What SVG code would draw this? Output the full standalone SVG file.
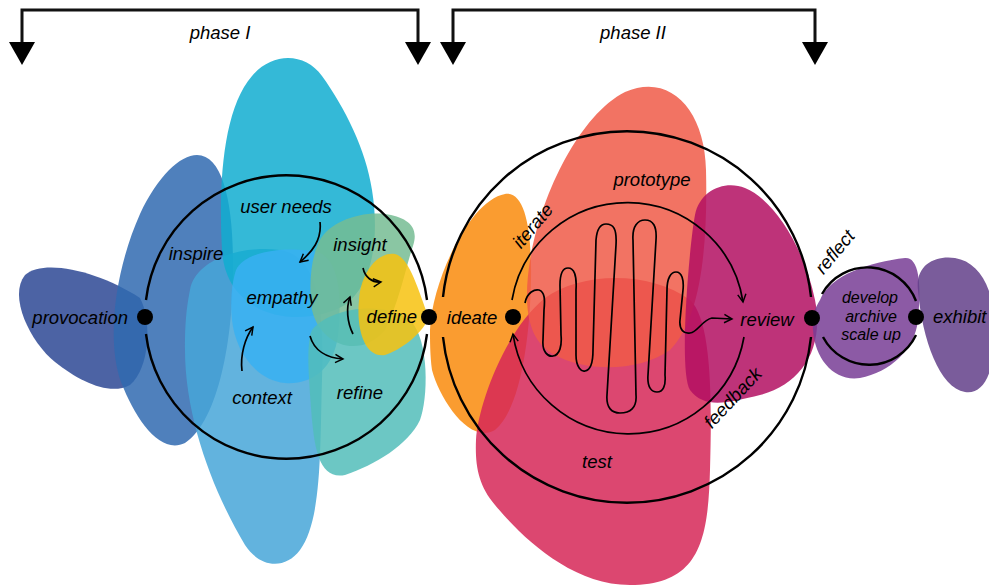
<svg xmlns="http://www.w3.org/2000/svg" width="989" height="586" viewBox="0 0 989 586">
<defs>
<marker id="chev" viewBox="0 0 12 12" refX="10" refY="6" markerWidth="11" markerHeight="11" markerUnits="userSpaceOnUse" orient="auto">
<path d="M1.5,1.5 L10,6 L1.5,10.5" fill="none" stroke="#000" stroke-width="1.6" stroke-linejoin="miter"/>
</marker>
<style>
.blob{fill-opacity:0.85;stroke:none}
.ln{fill:none;stroke:#000;stroke-width:2.4}
.thin{fill:none;stroke:#000;stroke-width:1.7}
.br{fill:none;stroke:#111;stroke-width:3}
.tri{fill:#000}
.dot{fill:#000}
text{font-family:"Liberation Sans",Arial,sans-serif;font-style:italic;font-size:18.5px;fill:#000;text-anchor:middle}
.sm{font-size:16px}
</style>
</defs>
<rect width="989" height="586" fill="#fff"/>

<g id="blobs">
<path id="blob-provocation" class="blob" fill="#2d4894" d="M25 275 C45 258 100 272 140 298 C152 320 150 368 130 385 C110 396 80 382 55 362 C30 342 8 296 25 275 Z"/>
<path id="blob-inspire" class="blob" fill="#306ab0" d="M197 155 C222 155 233 200 233 262 C234 332 220 420 185 443 C160 455 136 420 121 382 C106 340 115 270 140 214 C158 176 180 155 197 155 Z"/>
<path id="blob-context" class="blob" fill="#47a6d8" d="M190 290 C195 260 240 245 280 250 C315 255 325 300 322 380 C320 450 322 520 300 550 C285 570 260 568 245 545 C215 495 185 420 185 350 C185 320 187 305 190 290 Z"/>
<path id="blob-userneeds" class="blob" fill="#10add0" d="M222 250 C218 180 224 108 252 76 C272 52 305 52 322 76 C345 108 366 150 372 190 C380 240 372 285 345 305 C300 330 226 318 222 250 Z"/>
<path id="blob-empathy" class="blob" fill="#38b0f2" d="M236 270 C245 250 290 246 318 252 C340 260 342 300 338 335 C334 370 310 385 285 383 C255 380 235 350 232 320 C230 300 232 282 236 270 Z"/>
<path id="blob-insight" class="blob" fill="#76bc93" d="M320 240 C330 222 360 211 385 214 C405 217 420 225 413 246 C406 266 400 300 385 330 C360 360 320 345 312 310 C308 280 312 255 320 240 Z"/>
<path id="blob-refine" class="blob" fill="#52bdba" d="M312 330 C330 308 382 300 410 320 C430 340 428 400 420 420 C408 445 375 465 345 475 C320 480 315 450 312 420 C310 390 305 345 312 330 Z"/>
<path id="blob-define" class="blob" fill="#f7c20f" d="M359 300 C361 270 380 251 395 254 C410 258 418 290 429 318 C420 336 400 350 385 355 C365 358 356 330 359 300 Z"/>
<path id="blob-ideate" class="blob" fill="#f98b0c" d="M430 330 C432 280 470 200 505 194 C525 191 532 230 531 280 C530 340 520 410 495 430 C470 445 440 400 432 370 C430 355 430 340 430 330 Z"/>
<path id="blob-test" class="blob" fill="#d62757" d="M476 440 C478 405 505 330 545 298 C580 272 650 270 690 300 C712 320 712 400 710 470 C708 540 700 585 630 585 C570 585 520 535 495 505 C478 485 475 465 476 440 Z"/>
<path id="blob-prototype" class="blob" fill="#f05a48" d="M527 300 C525 230 570 120 625 92 C670 72 705 110 706 170 C708 250 700 320 670 350 C640 372 585 372 555 355 C535 345 528 325 527 300 Z"/>
<path id="blob-review" class="blob" fill="#b30f62" d="M695 215 C700 190 725 180 745 188 C775 200 805 250 815 300 C825 350 800 385 760 395 C730 402 705 410 690 390 C678 370 690 240 695 215 Z"/>
<path id="blob-develop" class="blob" fill="#783d95" d="M820 300 C830 275 870 262 905 258 C918 257 922 280 918 320 C915 350 890 372 860 378 C835 382 815 360 813 330 C812 315 815 308 820 300 Z"/>
<path id="blob-exhibit" class="blob" fill="#63408a" d="M918 290 C915 265 935 255 955 258 C980 262 995 290 995 330 C995 370 985 395 965 392 C940 388 922 340 918 290 Z"/>
</g>

<g id="connectors">
<path class="br" d="M22 46 V10 H418 V46"/>
<polygon class="tri" points="9,42 35,42 22,65"/>
<polygon class="tri" points="405,42 431,42 418,65"/>
<path class="br" d="M453 46 V10 H815 V46"/>
<polygon class="tri" points="440,42 466,42 453,65"/>
<polygon class="tri" points="802,42 828,42 815,65"/>

<path class="ln" d="M146 300 A141.5 141.5 0 0 1 427 300"/>
<path class="ln" d="M146 334 A141.5 141.5 0 0 0 427 334"/>
<path class="ln" d="M443 297 A185 185 0 0 1 811 297"/>
<path class="ln" d="M443 337 A185 185 0 0 0 811 337"/>
<path class="thin" d="M512 300 A117 117 0 0 1 743 302" marker-end="url(#chev)"/>
<path class="thin" d="M744 337 A117 117 0 0 1 513 334" marker-end="url(#chev)"/>
<path class="ln" d="M822 294 A52 52 0 0 1 916 301"/>
<path class="ln" d="M823 337 A52 52 0 0 0 916 335"/>

<path class="thin" d="M320 222 C322 240 312 252 300 262" marker-end="url(#chev)"/>
<path class="thin" d="M363 268 C365 277 372 283 381 282" marker-end="url(#chev)"/>
<path class="thin" d="M353 334 C347 322 346 308 350 297" marker-end="url(#chev)"/>
<path class="thin" d="M310 336 C314 350 326 358 343 359" marker-end="url(#chev)"/>
<path class="thin" d="M242 371 C240 355 245 338 253 327" marker-end="url(#chev)"/>

<path class="thin" d="M525 303 C527 292 535 289 539 290 C545 292 545 300 544 310 L543 340 C542 352 548 357 553 356 C560 355 562 345 561 335 L560 285 C560 272 564 268 568 268 C574 268 577 275 576 290 L576 355 C576 368 582 372 585 371 C591 370 593 362 593 350 L596 240 C597 228 601 224 606 224 C613 224 617 228 616 245 L607 395 C606 408 612 413 620 413 C630 413 637 408 636 395 L633 240 C632 226 638 220 645 220 C653 220 657 226 656 240 L648 375 C647 388 652 392 657 392 C663 392 666 386 665 375 L667 290 C667 278 671 272 676 272 C682 272 684 280 683 290 L680 320 C679 330 684 334 690 333 C698 332 702 320 712 318 L732 319" marker-end="url(#chev)"/>
</g>

<g id="dots">
<circle class="dot" cx="145" cy="317" r="8"/>
<circle class="dot" cx="429" cy="317" r="8"/>
<circle class="dot" cx="513" cy="317" r="8"/>
<circle class="dot" cx="812" cy="318" r="8"/>
<circle class="dot" cx="916" cy="317" r="8"/>
</g>

<g id="labels">
<text x="220" y="39">phase I</text>
<text x="633" y="39">phase II</text>
<text id="n-provocation" x="128" y="324" style="text-anchor:end">provocation</text>
<text id="n-inspire" x="196" y="260">inspire</text>
<text id="n-userneeds" x="286" y="213">user needs</text>
<text id="n-empathy" x="282" y="304">empathy</text>
<text id="n-insight" x="360" y="251">insight</text>
<text id="n-define" x="417" y="323" style="text-anchor:end">define</text>
<text id="n-context" x="262" y="404">context</text>
<text id="n-refine" x="360" y="399">refine</text>
<text id="n-ideate" x="472" y="324">ideate</text>
<text id="n-iterate" x="0" y="6" transform="translate(533,226) rotate(-50)">iterate</text>
<text id="n-prototype" x="652" y="186">prototype</text>
<text id="n-review" x="767" y="326">review</text>
<text id="n-feedback" x="0" y="6" transform="translate(733,398) rotate(-47)">feedback</text>
<text id="n-test" x="597" y="468">test</text>
<text id="n-reflect" x="0" y="6" transform="translate(835,252) rotate(-50)">reflect</text>
<text id="n-develop" class="sm" x="870" y="303">develop</text>
<text id="n-archive" class="sm" x="871" y="321.5">archive</text>
<text id="n-scaleup" class="sm" x="871" y="340">scale up</text>
<text id="n-exhibit" x="933" y="323" style="text-anchor:start">exhibit</text>
</g>
</svg>
